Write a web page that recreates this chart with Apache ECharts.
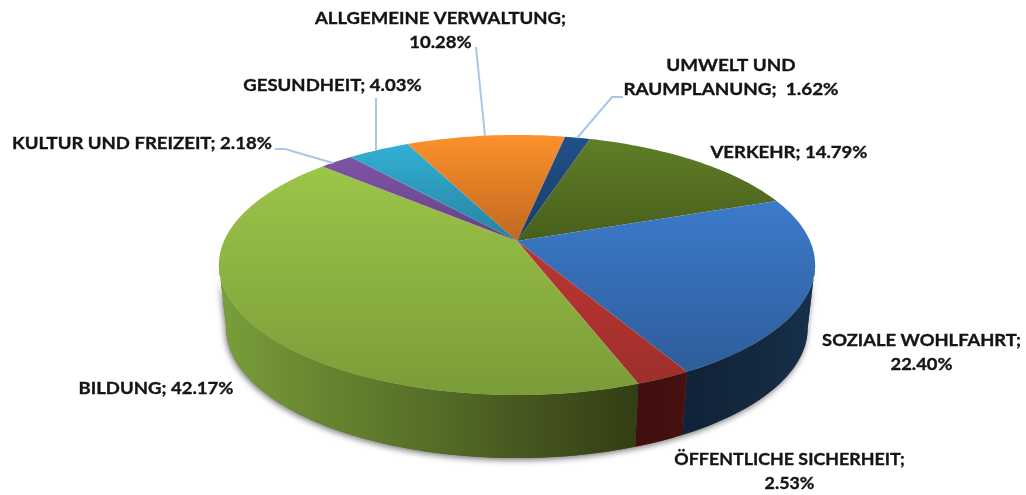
<!DOCTYPE html>
<html><head><meta charset="utf-8">
<style>html,body{margin:0;padding:0;background:#fff}#c{width:1026px;height:495px}</style>
<script src="https://cdn.jsdelivr.net/npm/echarts@6/dist/echarts.min.js"></script>
</head><body><div id="c"></div>
<script>
const categories = ['VERKEHR','SOZIALE WOHLFAHRT','ÖFFENTLICHE SICHERHEIT','BILDUNG','KULTUR UND FREIZEIT','GESUNDHEIT','ALLGEMEINE VERWALTUNG','UMWELT UND RAUMPLANUNG'];
const values = [14.79,22.40,2.53,42.17,2.18,4.03,10.28,1.62];
const labelLines = [
  ['VERKEHR; 14.79%'],
  ['SOZIALE WOHLFAHRT;','22.40%'],
  ['ÖFFENTLICHE SICHERHEIT;','2.53%'],
  ['BILDUNG; 42.17%'],
  ['KULTUR UND FREIZEIT; 2.18%'],
  ['GESUNDHEIT; 4.03%'],
  ['ALLGEMEINE VERWALTUNG;','10.28%'],
  ['UMWELT UND','RAUMPLANUNG;  1.62%']
];
// styling / layout, separate from the values
const topColors = [['#607F27','#475E1B'],['#3C7ACA','#2E5D9A'],['#BC3633','#9E2F2C'],['#9CC549','#7A9C39'],['#7E54A6','#664283'],['#32B0D5','#27829F'],['#FC912B','#C0681F'],['#20508A','#1A3C66']];
const wallColors = [
  [[0,'#4a621c'],[1,'#3a4e14']],
  [[0,'#102238'],[.6,'#14293F'],[1,'#16304C']],
  [[0,'#3F0F0E'],[1,'#461110']],
  [[0,'#7A9F3A'],[.25,'#678530'],[.5,'#556F28'],[.72,'#47571F'],[1,'#323E13']],
  [[0,'#4c2f66'],[1,'#4c2f66']],
  [[0,'#1f6a80'],[1,'#1f6a80']],
  [[0,'#a85a1a'],[1,'#a85a1a']],
  [[0,'#122a48'],[1,'#122a48']]
];
const labelPos = [[789,153],[921.5,341],[789.5,460],[156,389],[142,144],[332.5,86],[440.5,19],[731,66]];
const labelStretch = [1.09,1.08,1.05,1.09,1.09,1.09,1.09,1.11];
const lineGap = 23.5;
const leaders = [null,null,null,null,[[275,149],[285,149],[333,163]],[[376,98],[376,150]],[[476,47],[485,136]],[[623,97],[612,97],[577,138]]];

const APEX = [517,241], K = 0.1846, A = 293, B = 125.6, START = 17;
const DEPTH = 63, BOT_SCALE = 0.975;
// pie angles at which the ellipse reaches its left and right extremes
const FRONT_FROM = Math.acos(-K)*180/Math.PI, FRONT_TO = 360-FRONT_FROM;
function topPt(deg){
  const r = deg*Math.PI/180, u = Math.sin(r), v = -Math.cos(r), w = 1-K*v;
  return [APEX[0]+A*u/w, APEX[1]+B*v/w];
}
function bottomPt(deg){
  const p = topPt(deg);
  return [APEX[0]+(p[0]-APEX[0])*BOT_SCALE, p[1]+DEPTH];
}
function span(i){
  const total = values.reduce((a,b)=>a+b,0);
  let s = 0; for(let k=0;k<i;k++) s += values[k];
  return [START+s/total*360, START+(s+values[i])/total*360];
}
function arc(fn,a,b){
  const n = Math.max(2,Math.ceil(Math.abs(b-a)/1.5)), pts=[];
  for(let j=0;j<=n;j++) pts.push(fn(a+(b-a)*j/n));
  return pts;
}
function extent(pts,idx){
  const c = pts.map(p=>p[idx]);
  return [Math.min(...c),Math.max(...c)];
}
function wallPoints(a,b){
  return arc(topPt,a,b).concat(arc(bottomPt,a,b).reverse());
}
function renderWall(params){
  const i = params.dataIndex, [s,t] = span(i);
  const a = Math.max(s,FRONT_FROM), b = Math.min(t,FRONT_TO);
  if(b<=a) return null;
  const pts = wallPoints(a,b);
  const e = extent(pts,0);
  const stops = wallColors[i].map(s=>({offset:s[0],color:s[1]}));
  return {type:'polygon',shape:{points:pts},style:{
    fill:{type:'linear',x:e[0],y:0,x2:e[1],y2:0,global:true,colorStops:stops}
  }};
}
function renderTop(params){
  const i = params.dataIndex, [a,b] = span(i);
  const pts = [APEX].concat(arc(topPt,a,b));
  const e = extent(pts,1);
  return {type:'polygon',shape:{points:pts},style:{
    fill:{type:'linear',x:0,y:e[0],x2:0,y2:e[1],global:true,colorStops:[{offset:0,color:topColors[i][0]},{offset:1,color:topColors[i][1]}]}
  }};
}
function renderBase(){
  return {type:'polygon',shape:{points:wallPoints(FRONT_FROM,FRONT_TO)},style:{fill:'#5a5a5a',shadowBlur:6,shadowColor:'rgba(0,0,0,.55)',shadowOffsetX:-1,shadowOffsetY:2}};
}
function renderLabel(params){
  const i = params.dataIndex, children = [];
  if(leaders[i]) children.push({type:'polyline',shape:{points:leaders[i]},style:{fill:null,stroke:'#A9C6EA',lineWidth:2}});
  labelLines[i].forEach((t,j)=>children.push({type:'text',
    x:labelPos[i][0],y:labelPos[i][1]+j*lineGap,scaleX:labelStretch[i],scaleY:1,
    style:{x:0,y:0,text:t,align:'center',verticalAlign:'middle',
    fill:'#141414',stroke:'#141414',lineWidth:0.35,font:'bold 17px Lato, sans-serif'}}));
  return {type:'group',children};
}
const chart = echarts.init(document.getElementById('c'),null,{renderer:'canvas'});
const mk = (renderItem,data,name)=>({type:'custom',name,coordinateSystem:'none',renderItem,data,animation:false,silent:true,clip:false});
const named = values.map((v,i)=>({name:categories[i],value:v}));
chart.setOption({
  backgroundColor:'#fff',animation:false,
  series:[mk(renderBase,[100],'base'),mk(renderWall,named,'walls'),mk(renderTop,named,'tops'),mk(renderLabel,named,'labels')]
});
</script></body></html>
